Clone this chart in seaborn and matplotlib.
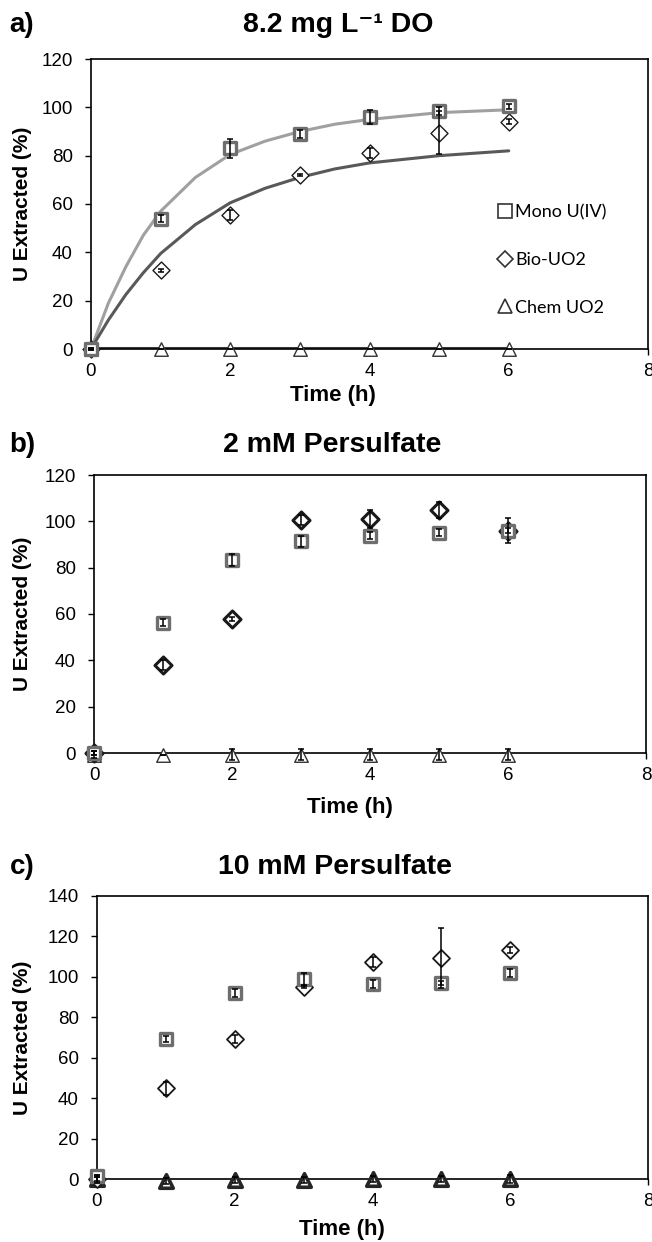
import matplotlib

matplotlib.use("Agg")

import pandas as pd
import seaborn as sns
from matplotlib import pyplot as plt
from matplotlib.lines import Line2D

sns.set_theme(style="white")
NARROW = ["Liberation Sans Narrow", "Liberation Sans", "DejaVu Sans"]
WIDE = ["Liberation Sans", "DejaVu Sans"]
plt.rcParams["font.family"] = NARROW
plt.rcParams["text.color"] = "black"

time_h = [0, 1, 2, 3, 4, 5, 6]
series_names = ["Mono U(IV)", "Bio-UO2", "Chem UO2"]

# a) 8.2 mg/L dissolved oxygen
do_mono = [0, 54, 83, 89, 96, 98.5, 100.5]
do_mono_err = [0.5, 1.5, 4, 1.5, 3, 1.5, 1]
do_bio = [0, 32.5, 55.5, 72, 81, 89.5, 94]
do_bio_err = [0.5, 0.5, 2, 0.5, 2, 9, 1]
do_chem = [0, 0, 0, 0, 0, 0, 0]
do_chem_err = [0, 0, 0, 0, 0, 0, 0]

# fitted curves
fit_time = [0, 0.25, 0.5, 0.75, 1, 1.5, 2, 2.5, 3, 3.5, 4, 5, 6]
fit_mono = [0, 19, 34, 47, 57, 71, 80.5, 86, 90, 93, 95, 97.8, 99]
fit_bio = [0, 12, 22.5, 31.5, 39.5, 51.5, 60.5, 66.5, 71, 74.5, 77, 80, 82]
fit_chem = [0.3, 0.3, 0.3, 0.3, 0.3, 0.3, 0.3, 0.3, 0.3, 0.3, 0.3, 0.3, 0.3]

# b) 2 mM persulfate
ps2_mono = [0, 56.3, 83.3, 91.3, 93.7, 95.1, 96]
ps2_mono_err = [1, 1.5, 2.5, 2.5, 1.5, 1.5, 1]
ps2_bio = [0, 38, 57.8, 100.6, 101, 105, 96]
ps2_bio_err = [1, 2, 1, 2, 4, 3.5, 5.5]
ps2_chem = [-0.7, -0.7, -0.7, -0.7, -0.7, -0.7, -0.7]
ps2_chem_err = [1.5, 0, 2.5, 2.5, 2.5, 2.5, 2.5]

# c) 10 mM persulfate
ps10_mono = [1.5, 69.3, 92, 99, 96.5, 97, 102]
ps10_mono_err = [0.5, 1.5, 2, 3, 2, 1, 2]
ps10_bio = [0, 44.8, 69.3, 95, 107.5, 109.3, 113.5]
ps10_bio_err = [1, 3, 2, 0.5, 2.5, 15, 1.5]
ps10_chem = [0, -0.8, -0.5, -0.5, 0, 0, 0]
ps10_chem_err = [2, 1.5, 1.5, 1.5, 1.5, 1.5, 2]

MONO_EDGE = "#6e6e6e"
BIO_EDGE = "#1a1a1a"


def draw_series(ax, y, err, marker, edge, lw, size):
    sns.scatterplot(x=time_h, y=y, ax=ax, marker=marker, s=size,
                    facecolor="white", edgecolor=edge, linewidth=lw,
                    zorder=4, clip_on=False, legend=False)
    ax.errorbar(time_h, y, yerr=err, fmt="none", ecolor="black",
                elinewidth=1.1, capsize=2.5, capthick=1.1, zorder=5,
                clip_on=False)


def style_axes(ax, ymax):
    ax.set_xlim(0, 8)
    ax.set_ylim(0, ymax)
    ax.set_xticks([0, 2, 4, 6, 8])
    ax.set_yticks(range(0, ymax + 1, 20))
    ax.set_xlabel("")
    ax.set_ylabel("")
    for side in ax.spines.values():
        side.set_visible(True)
        side.set_color("black")
        side.set_linewidth(1.2)
    ax.tick_params(axis="both", direction="out", length=4, width=1,
                   color="black", labelsize=13.5, bottom=True,
                   left=True, labelcolor="black")
    ax.tick_params(axis="x", pad=6)
    ax.tick_params(axis="y", pad=9)


fig = plt.figure(figsize=(6.52, 12.42), dpi=100)
fig.patch.set_facecolor("white")

W, H = 652.0, 1242.0


def box(left, top, right, bottom):
    return [left / W, 1 - bottom / H, (right - left) / W, (bottom - top) / H]


panels = [
    {
        "rect": box(91, 59, 648, 349), "ymax": 120,
        "mono": (do_mono, do_mono_err), "bio": (do_bio, do_bio_err),
        "chem": (do_chem, do_chem_err),
        "title": "8.2 mg L⁻¹ DO", "tag": "a)",
        "title_y": 25, "title_x": 338, "xlab_x": 333, "xlab_y": 396,
    },
    {
        "rect": box(94, 475, 646, 753), "ymax": 120,
        "mono": (ps2_mono, ps2_mono_err), "bio": (ps2_bio, ps2_bio_err),
        "chem": (ps2_chem, ps2_chem_err),
        "title": "2 mM Persulfate", "tag": "b)",
        "title_y": 445, "title_x": 332, "xlab_x": 350, "xlab_y": 807,
    },
    {
        "rect": box(97, 896, 648, 1179), "ymax": 140,
        "mono": (ps10_mono, ps10_mono_err), "bio": (ps10_bio, ps10_bio_err),
        "chem": (ps10_chem, ps10_chem_err),
        "title": "10 mM Persulfate", "tag": "c)",
        "title_y": 867, "title_x": 335, "xlab_x": 342, "xlab_y": 1229,
    },
]

for i, p in enumerate(panels):
    ax = fig.add_axes(p["rect"])
    if i == 0:
        fits = pd.DataFrame({"t": fit_time, "mono": fit_mono,
                             "bio": fit_bio, "chem": fit_chem})
        sns.lineplot(data=fits, x="t", y="mono", ax=ax, color="#a0a0a0",
                     linewidth=2.2, zorder=2)
        sns.lineplot(data=fits, x="t", y="bio", ax=ax, color="#595959",
                     linewidth=2.2, zorder=2)
        sns.lineplot(data=fits, x="t", y="chem", ax=ax, color="#3a3a3a",
                     linewidth=2.2, zorder=2)
    chem_edge = "#262626" if i == 2 else "#333333"
    chem_lw = 2.6 if i == 2 else 1.0
    draw_series(ax, *p["chem"], marker="^", edge=chem_edge, lw=chem_lw, size=95)
    bio_lw = [1.0, 2.2, 1.3][i]
    draw_series(ax, *p["bio"], marker="D", edge=BIO_EDGE, lw=bio_lw, size=75)
    draw_series(ax, *p["mono"], marker="s", edge=MONO_EDGE, lw=2.4, size=70)
    style_axes(ax, p["ymax"])

    if i == 0:
        handles = [
            Line2D([], [], marker="s", linestyle="none", markersize=9.5,
                   markerfacecolor="white", markeredgecolor="#333333",
                   markeredgewidth=1.2),
            Line2D([], [], marker="D", linestyle="none", markersize=8,
                   markerfacecolor="white", markeredgecolor="#333333",
                   markeredgewidth=1.2),
            Line2D([], [], marker="^", linestyle="none", markersize=9.5,
                   markerfacecolor="white", markeredgecolor="#333333",
                   markeredgewidth=1.2),
        ]
        ax.legend(handles, series_names, loc="upper left",
                  bbox_to_anchor=(0.705, 0.555), frameon=False,
                  handlelength=0.6, handletextpad=0.25, labelspacing=1.75,
                  prop={"family": ["Lato", "DejaVu Sans"], "size": 13})

    fig.text(22 / W, 1 - p["title_y"] / H, p["tag"], ha="center",
             va="center", fontsize=20, fontweight="bold")
    fig.text(p["title_x"] / W, 1 - p["title_y"] / H, p["title"],
             ha="center", va="center", fontsize=20.5, fontweight="bold")
    fig.text(p["xlab_x"] / W, 1 - p["xlab_y"] / H, "Time (h)", ha="center",
             va="center", fontsize=16, fontweight="bold")
    ymid = (p["rect"][1] + p["rect"][3] / 2)
    fig.text(23 / W, ymid, "U Extracted (%)", ha="center", va="center",
             rotation=90, fontsize=15, fontweight="bold", family=WIDE)

fig.savefig("out.png", dpi=100, facecolor="white")
